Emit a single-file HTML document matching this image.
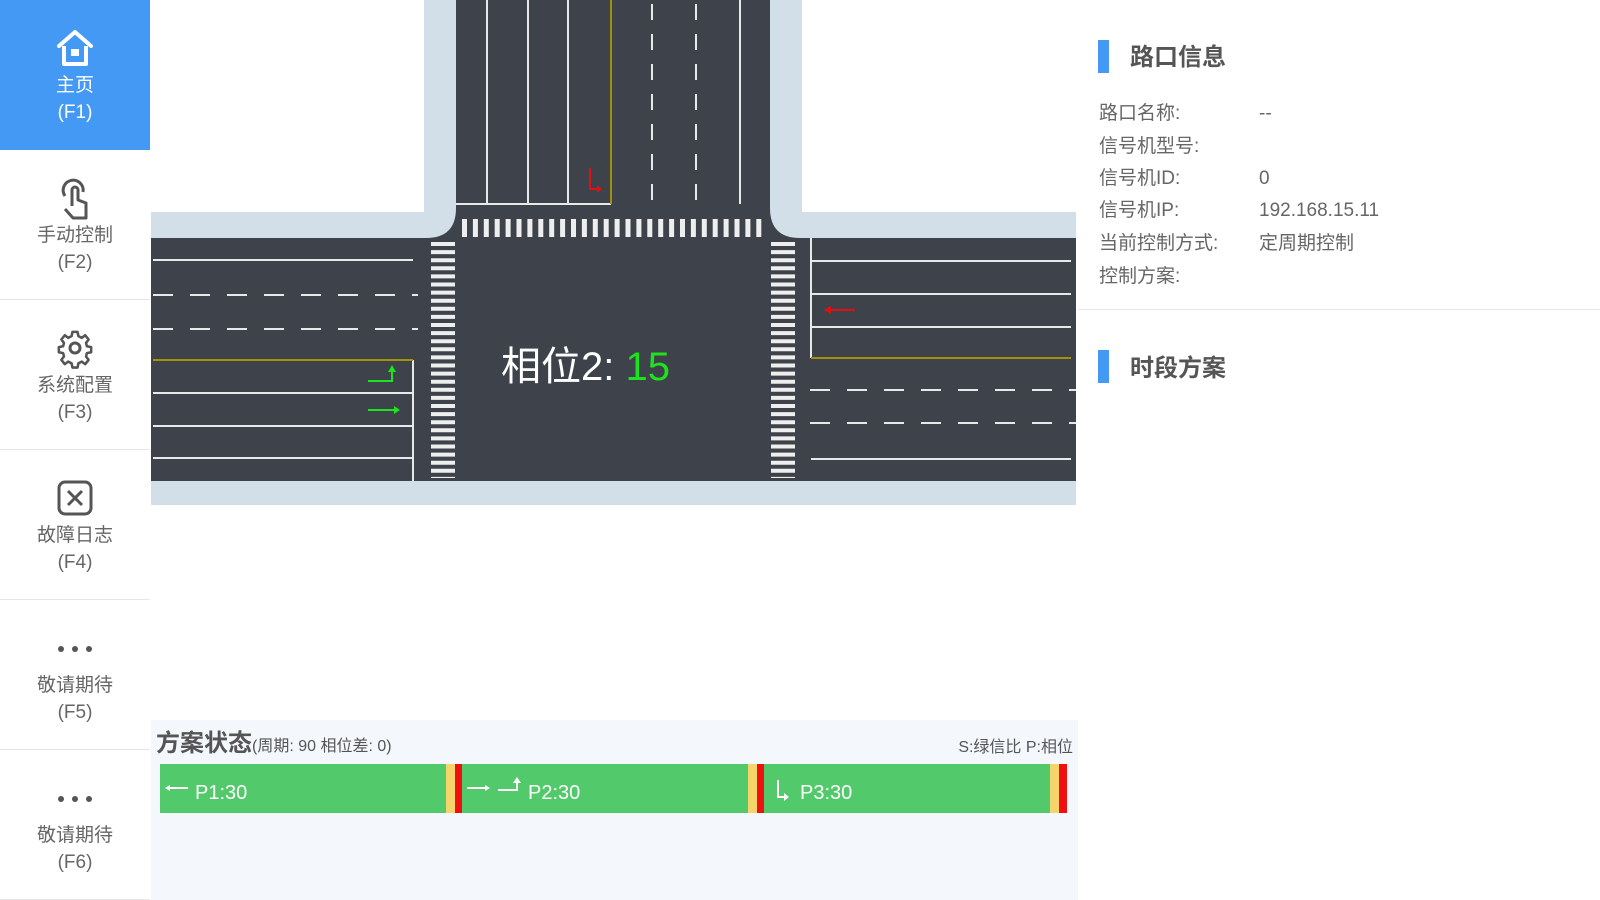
<!DOCTYPE html>
<html><head><meta charset="utf-8"><style>
*{margin:0;padding:0;box-sizing:border-box}
body{width:1600px;height:900px;overflow:hidden;background:#fff;font-family:"Liberation Sans","Noto Sans CJK SC",sans-serif;position:relative}
.side{position:absolute;left:0;top:0;width:150px;height:900px;background:#fff}
.it{position:absolute;left:0;width:150px;height:150px;border-bottom:1px solid #e6e6e6;color:#666;text-align:center}
.it.act{background:#4399f3;color:#fff;border-bottom:none}
.it svg{position:absolute;left:55px;top:26px}
.it .t{position:absolute;left:0;width:150px;top:72px;font-size:19px;line-height:27px}
.abs{position:absolute;white-space:nowrap}
.lab{position:absolute;left:1099px;font-size:19px;color:#666;white-space:nowrap;line-height:26px}
.val{position:absolute;left:1259px;font-size:19px;color:#666;white-space:nowrap;line-height:26px;top:0}
</style></head><body>
<div class="side">
 <div class="it act" style="top:0"><svg width="40" height="44" viewBox="0 0 40 44"><path d="M4 20 L20 6 L36 20" fill="none" stroke="#fff" stroke-width="4" stroke-linecap="round" stroke-linejoin="round"/><path d="M9 20 V38 H31 V20" fill="none" stroke="#fff" stroke-width="4" stroke-linejoin="round"/><rect x="16" y="23" width="8" height="7" fill="#fff"/></svg><div class="t">主页<br>(F1)</div></div>
 <div class="it" style="top:150px"><svg width="40" height="46" viewBox="0 0 40 46"><path d="M10 20 A10 10 0 1 1 28 16" fill="none" stroke="#555" stroke-width="3"/><path d="M17 30 V14 a3 3 0 0 1 6 0 V24 l8 3 V42 H18 L10 33" fill="none" stroke="#555" stroke-width="3" stroke-linejoin="round"/></svg><div class="t">手动控制<br>(F2)</div></div>
 <div class="it" style="top:300px"><svg width="40" height="44" viewBox="0 0 40 44"><path d="M17 6 h6 l1 5 l4 2 l4-3 l4 5 l-3 4 l1 4 l5 1 v6 l-5 1 l-1 4 l3 4 l-4 5 l-4-3 l-4 2 l-1 5 h-6 l-1-5 l-4-2 l-4 3 l-4-5 l3-4 l-1-4 l-5-1 v-6 l5-1 l1-4 l-3-4 l4-5 l4 3 l4-2 z" fill="none" stroke="#555" stroke-width="3" stroke-linejoin="round" transform="translate(20 22) scale(0.85) translate(-20 -25)"/><circle cx="20" cy="22" r="5" fill="none" stroke="#555" stroke-width="3"/></svg><div class="t">系统配置<br>(F3)</div></div>
 <div class="it" style="top:450px"><svg width="40" height="44" viewBox="0 0 40 44"><rect x="4" y="6" width="32" height="32" rx="6" fill="none" stroke="#555" stroke-width="3"/><path d="M13 15 L27 29 M27 15 L13 29" stroke="#555" stroke-width="3"/></svg><div class="t">故障日志<br>(F4)</div></div>
 <div class="it" style="top:600px"><svg width="40" height="44" viewBox="0 0 40 44"><circle cx="6" cy="23" r="3" fill="#555"/><circle cx="20" cy="23" r="3" fill="#555"/><circle cx="34" cy="23" r="3" fill="#555"/></svg><div class="t">敬请期待<br>(F5)</div></div>
 <div class="it" style="top:750px"><svg width="40" height="44" viewBox="0 0 40 44"><circle cx="6" cy="23" r="3" fill="#555"/><circle cx="20" cy="23" r="3" fill="#555"/><circle cx="34" cy="23" r="3" fill="#555"/></svg><div class="t">敬请期待<br>(F6)</div></div>
</div>

<svg class="abs" style="left:0;top:0" width="1600" height="900">
 <rect x="424" y="0" width="378" height="240" fill="#d3dfe8"/>
 <rect x="151" y="212" width="925" height="293" fill="#d3dfe8"/>
 <path d="M456 0 H770 V208 Q770 238 800 238 H1076 V481 H151 V238 H426 Q456 238 456 208 Z" fill="#3e434b"/>
 <rect x="151" y="0" width="273" height="212" fill="#fff"/>
 <rect x="802" y="0" width="274" height="212" fill="#fff"/>
 <g stroke="#e8e8e8" stroke-width="2">
  <line x1="487" y1="0" x2="487" y2="204"/><line x1="528" y1="0" x2="528" y2="204"/><line x1="568" y1="0" x2="568" y2="204"/>
  <line x1="740" y1="0" x2="740" y2="204"/>
  <line x1="456" y1="204" x2="611" y2="204"/>
  <line x1="652" y1="4" x2="652" y2="204" stroke-dasharray="16 14"/>
  <line x1="696" y1="4" x2="696" y2="204" stroke-dasharray="16 14"/>
 </g>
 <line x1="611" y1="0" x2="611" y2="204" stroke="#a38f08" stroke-width="2"/>
 <g stroke="#e8e8e8" stroke-width="2">
  <line x1="153" y1="260" x2="413" y2="260"/>
  <line x1="153" y1="295" x2="418" y2="295" stroke-dasharray="20 17"/>
  <line x1="153" y1="329" x2="418" y2="329" stroke-dasharray="20 17"/>
  <line x1="153" y1="393" x2="413" y2="393"/><line x1="153" y1="426" x2="413" y2="426"/><line x1="153" y1="458" x2="413" y2="458"/>
  <line x1="413" y1="360" x2="413" y2="481"/>
 </g>
 <line x1="153" y1="360" x2="413" y2="360" stroke="#a38f08" stroke-width="2"/>
 <g stroke="#e8e8e8" stroke-width="2">
  <line x1="811" y1="261" x2="1071" y2="261"/><line x1="811" y1="294" x2="1071" y2="294"/><line x1="811" y1="327" x2="1071" y2="327"/>
  <line x1="811" y1="238" x2="811" y2="358"/>
  <line x1="810" y1="390" x2="1076" y2="390" stroke-dasharray="20 17"/>
  <line x1="810" y1="423" x2="1076" y2="423" stroke-dasharray="20 17"/>
  <line x1="811" y1="459" x2="1071" y2="459"/>
 </g>
 <line x1="811" y1="358" x2="1071" y2="358" stroke="#a38f08" stroke-width="2"/>
 <line x1="443" y1="242" x2="443" y2="478" stroke="#eee" stroke-width="24" stroke-dasharray="4 4.1"/>
 <line x1="783" y1="242" x2="783" y2="478" stroke="#eee" stroke-width="24" stroke-dasharray="4 4.1"/>
 <line x1="462" y1="228" x2="766" y2="228" stroke="#eee" stroke-width="18" stroke-dasharray="5 5.9"/>
 <g stroke="#e01010" stroke-width="2" fill="none"><path d="M590 168 V189 H597"/></g>
 <path d="M597 185 L602 189 L597 193 Z" fill="#e01010"/>
 <g stroke="#e01010" stroke-width="2"><line x1="830" y1="310" x2="855" y2="310"/></g>
 <path d="M824 310 L831 306 L831 314 Z" fill="#e01010"/>
 <g stroke="#1ee21e" stroke-width="2" fill="none"><path d="M368 381 H392 V372"/><line x1="368" y1="410" x2="394" y2="410"/></g>
 <path d="M388 372 L392 365 L396 372 Z M394 406 L400 410 L394 414 Z" fill="#1ee21e"/>
 <text x="501" y="380" font-size="40" fill="#fff" font-family="Liberation Sans,Noto Sans CJK SC,sans-serif">相位2: <tspan fill="#1ee21e">15</tspan></text>
</svg>

<div class="abs" style="left:1098px;top:40px;width:11px;height:33px;background:#4399f3"></div>
<div class="abs" style="left:1130px;top:41px;font-size:24px;font-weight:bold;color:#555;line-height:33px">路口信息</div>
<div class="lab" style="top:101px">路口名称:<span class="val" style="left:160px">--</span></div>
<div class="lab" style="top:134px">信号机型号:</div>
<div class="lab" style="top:166px">信号机ID:<span class="val" style="left:160px">0</span></div>
<div class="lab" style="top:198px">信号机IP:<span class="val" style="left:160px">192.168.15.11</span></div>
<div class="lab" style="top:231px">当前控制方式:<span class="val" style="left:160px">定周期控制</span></div>
<div class="lab" style="top:264px">控制方案:</div>
<div class="abs" style="left:1078px;top:309px;width:522px;height:1px;background:#e8e8e8"></div>
<div class="abs" style="left:1098px;top:350px;width:11px;height:33px;background:#4399f3"></div>
<div class="abs" style="left:1130px;top:352px;font-size:24px;font-weight:bold;color:#555;line-height:33px">时段方案</div>

<div class="abs" style="left:151px;top:720px;width:927px;height:180px;background:#f4f8fd"></div>
<div class="abs" style="left:156px;top:729px;color:#555;line-height:30px"><span style="font-size:24px;font-weight:bold">方案状态</span><span style="font-size:16px">(周期: 90 相位差: 0)</span></div>
<div class="abs" style="right:527px;top:733px;font-size:16px;color:#555">S:绿信比 P:相位</div>
<svg class="abs" style="left:0;top:0" width="1100" height="900">
 <g>
  <rect x="160" y="764" width="286" height="49" fill="#52c96a"/><rect x="446" y="764" width="9" height="49" fill="#f5d46c"/><rect x="455" y="764" width="7" height="49" fill="#f01010"/>
  <rect x="462" y="764" width="286" height="49" fill="#52c96a"/><rect x="748" y="764" width="9" height="49" fill="#f5d46c"/><rect x="757" y="764" width="7" height="49" fill="#f01010"/>
  <rect x="764" y="764" width="286" height="49" fill="#52c96a"/><rect x="1050" y="764" width="9" height="49" fill="#f5d46c"/><rect x="1059" y="764" width="8" height="49" fill="#f01010"/>
 </g>
 <g stroke="#fff" stroke-width="2" fill="none">
  <line x1="168" y1="788" x2="188" y2="788"/>
  <line x1="467" y1="788" x2="487" y2="788"/>
  <path d="M498 790 H517 V782"/>
  <path d="M778 780 V797 H784"/>
 </g>
 <path d="M165 788 L170 785 L170 791 Z M490 788 L485 785 L485 791 Z M513 783 L517 777 L521 783 Z M784 793 L789 797 L784 801 Z" fill="#fff"/>
 <g font-size="20" fill="#fff" font-family="Liberation Sans,sans-serif">
  <text x="195" y="799">P1:30</text><text x="528" y="799">P2:30</text><text x="800" y="799">P3:30</text>
 </g>
</svg>
</body></html>
